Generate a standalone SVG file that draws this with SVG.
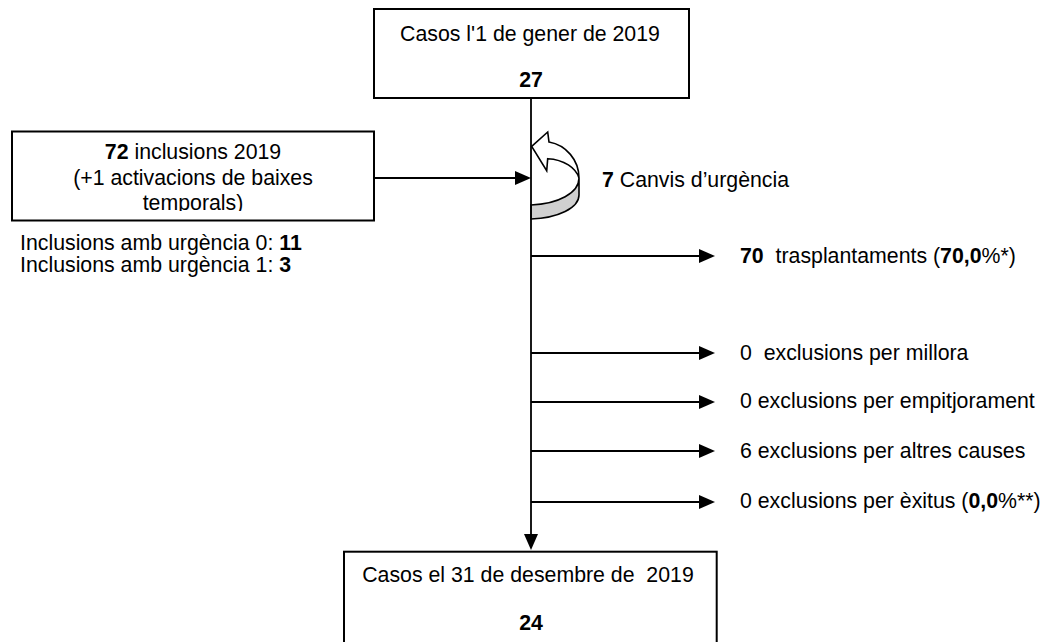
<svg xmlns="http://www.w3.org/2000/svg" width="1043" height="642" viewBox="0 0 1043 642">
  <style>
    text { font-family: "Liberation Sans", Arial, sans-serif; font-size: 21.3px; fill: #000; white-space: pre; }
    .b { font-weight: bold; }
    .box { fill: #fff; stroke: #000; stroke-width: 2; }
    .ln { fill: none; stroke: #000; stroke-width: 1.8; }
    .c { text-anchor: middle; }
  </style>
  <defs>
    <marker id="ah" markerUnits="userSpaceOnUse" markerWidth="16" markerHeight="14" refX="13" refY="7" orient="auto">
      <path d="M0,0 L16,7 L0,14 Z" fill="#000"/>
    </marker>
    <clipPath id="clipInc">
      <rect x="13" y="132" width="360" height="79"/>
    </clipPath>
  </defs>
  <rect width="1043" height="642" fill="#fff"/>

  <g id="canvis">
    <path d="M579,178 C579,193 558,204 531,205 L531,219 C558,218 579,208 579,195 Z" fill="#d0d0d0" stroke="#000" stroke-width="1.6"/>
    <path d="M531.7,146.3 L547.7,132 L549,142 C566,145 579,160 579,178 C576,168 564,159.5 547.7,158.7 L546.7,170.7 Z" fill="#fff" stroke="#000" stroke-width="1.6" stroke-linejoin="miter"/>
  </g>

  <g id="connectors">
    <line class="ln" x1="531" y1="98" x2="531" y2="547" marker-end="url(#ah)"/>
    <line class="ln" x1="374" y1="178" x2="528" y2="178" marker-end="url(#ah)"/>
    <line class="ln" x1="531" y1="256" x2="712" y2="256" marker-end="url(#ah)"/>
    <line class="ln" x1="531" y1="353" x2="712" y2="353" marker-end="url(#ah)"/>
    <line class="ln" x1="531" y1="402" x2="712" y2="402" marker-end="url(#ah)"/>
    <line class="ln" x1="531" y1="451" x2="712" y2="451" marker-end="url(#ah)"/>
    <line class="ln" x1="531" y1="502" x2="712" y2="502" marker-end="url(#ah)"/>
  </g>

  <g id="inici">
    <rect class="box" x="374" y="9" width="315" height="89"/>
    <text class="c" x="530" y="40.5">Casos l'1 de gener de 2019</text>
    <text class="c b" x="531" y="87">27</text>
  </g>

  <g id="inclusions">
    <rect class="box" x="12" y="131.5" width="362" height="89"/>
    <g clip-path="url(#clipInc)">
      <text class="c" x="193" y="159"><tspan class="b">72</tspan> inclusions 2019</text>
      <text class="c" x="193" y="184.5">(+1 activacions de baixes</text>
      <text class="c" x="193" y="210">temporals)</text>
    </g>
  </g>

  <g id="urgencies">
    <text x="20" y="250">Inclusions amb urgència 0: <tspan class="b">11</tspan></text>
    <text x="20" y="272">Inclusions amb urgència 1: <tspan class="b">3</tspan></text>
  </g>

  <g id="canvis-label">
    <text x="602" y="187"><tspan class="b">7</tspan> Canvis d’urgència</text>
  </g>

  <g id="sortides">
    <text x="740" y="262.5"><tspan class="b">70</tspan>  trasplantaments (<tspan class="b">70,0</tspan>%*)</text>
    <text x="740" y="359.5">0  exclusions per millora</text>
    <text x="740" y="408">0 exclusions per empitjorament</text>
    <text x="740" y="457.5">6 exclusions per altres causes</text>
    <text x="740" y="508">0 exclusions per èxitus (<tspan class="b">0,0</tspan>%**)</text>
  </g>

  <g id="final">
    <rect class="box" x="344" y="551.7" width="372.7" height="100"/>
    <text class="c" x="528" y="582">Casos el 31 de desembre de  2019</text>
    <text class="c b" x="531" y="630">24</text>
  </g>
</svg>
